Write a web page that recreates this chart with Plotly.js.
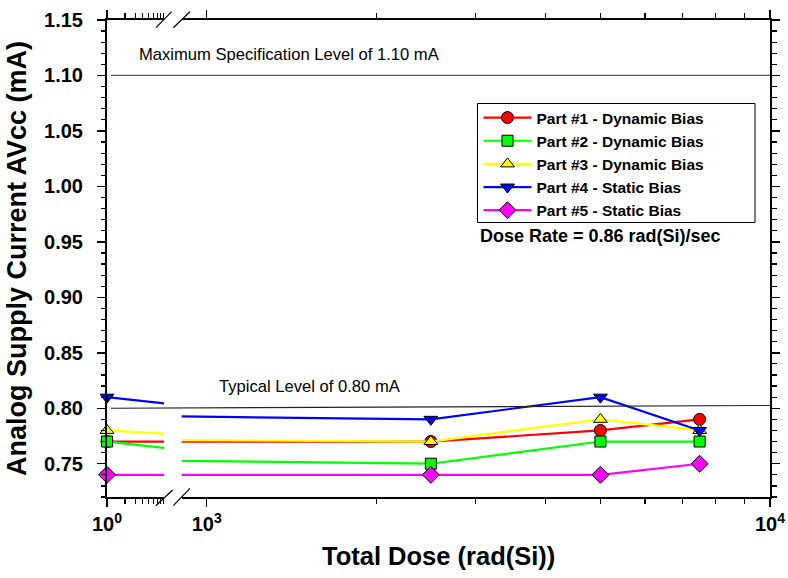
<!DOCTYPE html>
<html>
<head>
<meta charset="utf-8">
<script src="https://cdn.plot.ly/plotly-3.0.1.min.js"></script>
<style>
  html, body { margin: 0; padding: 0; background: #ffffff; }
  #chart { width: 788px; height: 578px; }
</style>
</head>
<body>
<div id="chart"></div>
<script>
// Total dose steps (rad(Si)); the first point is the pre-irradiation reading
const doses = [1, 2500, 5000, 7500];

// Analog supply current AVcc (mA) per part
const part1 = [0.77, 0.77, 0.78, 0.79];
const part2 = [0.77, 0.75, 0.77, 0.77];
const part3 = [0.78, 0.77, 0.79, 0.78];
const part4 = [0.81, 0.79, 0.81, 0.78];
const part5 = [0.74, 0.74, 0.74, 0.75];

const seriesNames = [
  'Part #1 - Dynamic Bias',
  'Part #2 - Dynamic Bias',
  'Part #3 - Dynamic Bias',
  'Part #4 - Static Bias',
  'Part #5 - Static Bias'
];

// Reference levels (mA)
const maxSpecLevel = 1.10;
const typicalLevel = 0.80;

// Axis tick labels
const lowTickVals = [1];
const lowTickText = ['10<sup>0</sup>'];
const lowMinorVals = [2, 3, 4, 5, 6, 7, 8, 9];
const highTickVals = [1000, 10000];
const highTickText = ['10<sup>3</sup>', '10<sup>4</sup>'];
const highMinorVals = [2000, 3000, 4000, 5000, 6000, 7000, 8000, 9000];

const styles = [
  { color: '#ff0000', symbol: 'circle', size: 12 },
  { color: '#00ff00', symbol: 'square', size: 11 },
  { color: '#ffff00', symbol: 'triangle-up', size: 12 },
  { color: '#0000ff', symbol: 'triangle-down', size: 12 },
  { color: '#ff00ff', symbol: 'diamond', size: 13 }
];

const FONT = 'Arial, "Liberation Sans", Helvetica, sans-serif';

// plot-area geometry in pixels, used to place the broken axis and decorations
const W = 788, H = 578;
const M = { l: 107, r: 18, t: 20, b: 81 };
const PW = W - M.l - M.r, PH = H - M.t - M.b;
const px = x => (x - M.l) / PW;
const py = y => 1 - (y - M.t) / PH;

const lowEnd = 164, highStart = 181.7;

const allSeries = [part1, part2, part3, part4, part5];
const traces = [];
// each series is drawn on both halves of the broken log axis
[['x', 'y', false], ['x2', 'y2', true]].forEach(([xa, ya, inLegend]) => {
  allSeries.forEach((vals, i) => {
    traces.push({
      type: 'scatter',
      mode: 'lines+markers',
      x: doses,
      y: vals,
      xaxis: xa,
      yaxis: ya,
      name: seriesNames[i],
      legendgroup: 'g' + i,
      showlegend: inLegend,
      cliponaxis: false,
      line: { color: styles[i].color, width: 2.2 },
      marker: {
        symbol: styles[i].symbol,
        size: styles[i].size,
        color: styles[i].color,
        line: { color: '#000000', width: 1 }
      }
    });
  });
});

const tickFont = { family: FONT, size: 20, color: '#000', weight: 'bold' };

const commonX = {
  type: 'log',
  showline: true, linecolor: '#000', linewidth: 2,
  mirror: 'ticks',
  ticks: 'outside', ticklen: 8, tickwidth: 1.5, tickcolor: '#000',
  tickmode: 'array',
  tickfont: tickFont,
  showgrid: false, zeroline: false,
  fixedrange: true
};

const commonY = {
  range: [0.72, 1.15],
  showline: true, linecolor: '#000', linewidth: 2,
  ticks: 'outside', ticklen: 8, tickwidth: 1.5, tickcolor: '#000',
  tick0: 0, dtick: 0.05, tickformat: '.2f',
  minor: { dtick: 0.01, ticklen: 4.5, tickwidth: 1.2, tickcolor: '#000', ticks: 'outside' },
  showgrid: false, zeroline: false,
  fixedrange: true
};

function seg(x0, y0, x1, y1, w) {
  return {
    type: 'line', xref: 'paper', yref: 'paper',
    x0: px(x0), y0: py(y0), x1: px(x1), y1: py(y1),
    line: { color: '#000', width: w || 1.2 }
  };
}

const layout = {
  width: W, height: H,
  margin: M,
  paper_bgcolor: '#ffffff',
  plot_bgcolor: '#ffffff',
  showlegend: true,
  xaxis: Object.assign({}, commonX, {
    domain: [0, px(lowEnd)],
    range: [0, (lowEnd - M.l) / 59.5],
    anchor: 'y',
    tickvals: lowTickVals, ticktext: lowTickText,
    minor: { tickvals: lowMinorVals, ticklen: 5, tickwidth: 1.2, tickcolor: '#000', ticks: 'outside' }
  }),
  xaxis2: Object.assign({}, commonX, {
    domain: [px(highStart), 1],
    range: [3 - (206.7 - highStart) / 563.3, 4],
    anchor: 'y2',
    tickvals: highTickVals, ticktext: highTickText,
    minor: { tickvals: highMinorVals, ticklen: 5, tickwidth: 1.2, tickcolor: '#000', ticks: 'outside' }
  }),
  yaxis: Object.assign({}, commonY, {
    anchor: 'x', side: 'left',
    tickfont: tickFont,
    ticklabelstandoff: 10,
    title: {
      text: 'Analog Supply Current AVcc (mA)',
      font: { family: FONT, size: 27, color: '#000', weight: 'bold' },
      standoff: 10
    }
  }),
  yaxis2: Object.assign({}, commonY, {
    anchor: 'x2', side: 'right',
    showticklabels: false
  }),
  legend: {
    x: px(478.5), y: py(101), xanchor: 'left', yanchor: 'top',
    bgcolor: 'rgba(0,0,0,0)', borderwidth: 0,
    font: { family: FONT, size: 15.5, color: '#000', weight: 'bold' },
    itemwidth: 48, tracegroupgap: 0,
    traceorder: 'normal'
  },
  shapes: [
    // legend frame
    { type: 'rect', xref: 'paper', yref: 'paper', layer: 'below',
      x0: px(477.5), x1: px(755), y0: py(222.5), y1: py(103.5),
      fillcolor: '#ffffff', line: { color: '#000', width: 1 } },
    // reference levels
    { type: 'line', xref: 'paper', yref: 'y', x0: px(111), x1: 1, y0: maxSpecLevel, y1: maxSpecLevel,
      line: { color: '#555555', width: 1.2 } },
    { type: 'line', xref: 'paper', yref: 'y', x0: px(111), x1: 1, y0: typicalLevel, y1: typicalLevel + 0.0025,
      line: { color: '#222222', width: 1.2 } },
    // axis break marks, top and bottom
    seg(156, 27.7, 171.7, 11.7), seg(173.3, 27.7, 190, 11.7),
    seg(155.7, 505.7, 172.7, 490), seg(173.3, 505.7, 190, 488.3)
  ],
  annotations: [
    { xref: 'paper', yref: 'paper', x: px(137), y: py(54), xanchor: 'left', yanchor: 'middle',
      text: 'Maximum Specification Level of 1.10 mA', showarrow: false,
      font: { family: FONT, size: 16.6, color: '#000' } },
    { xref: 'paper', yref: 'paper', x: px(217), y: py(386), xanchor: 'left', yanchor: 'middle',
      text: 'Typical Level of 0.80 mA', showarrow: false,
      font: { family: FONT, size: 16.6, color: '#000' } },
    { xref: 'paper', yref: 'paper', x: px(478), y: py(236), xanchor: 'left', yanchor: 'middle',
      text: 'Dose Rate = 0.86 rad(Si)/sec', showarrow: false,
      font: { family: FONT, size: 18, color: '#000', weight: 'bold' } },
    // x-axis title centred under the whole broken axis
    { xref: 'paper', yref: 'paper', x: px(438), y: py(556), xanchor: 'center', yanchor: 'middle',
      text: 'Total Dose (rad(Si))', showarrow: false,
      font: { family: FONT, size: 25.5, color: '#000', weight: 'bold' } }
  ]
};

Plotly.newPlot('chart', traces, layout, { displayModeBar: false, staticPlot: true });
</script>
</body>
</html>
